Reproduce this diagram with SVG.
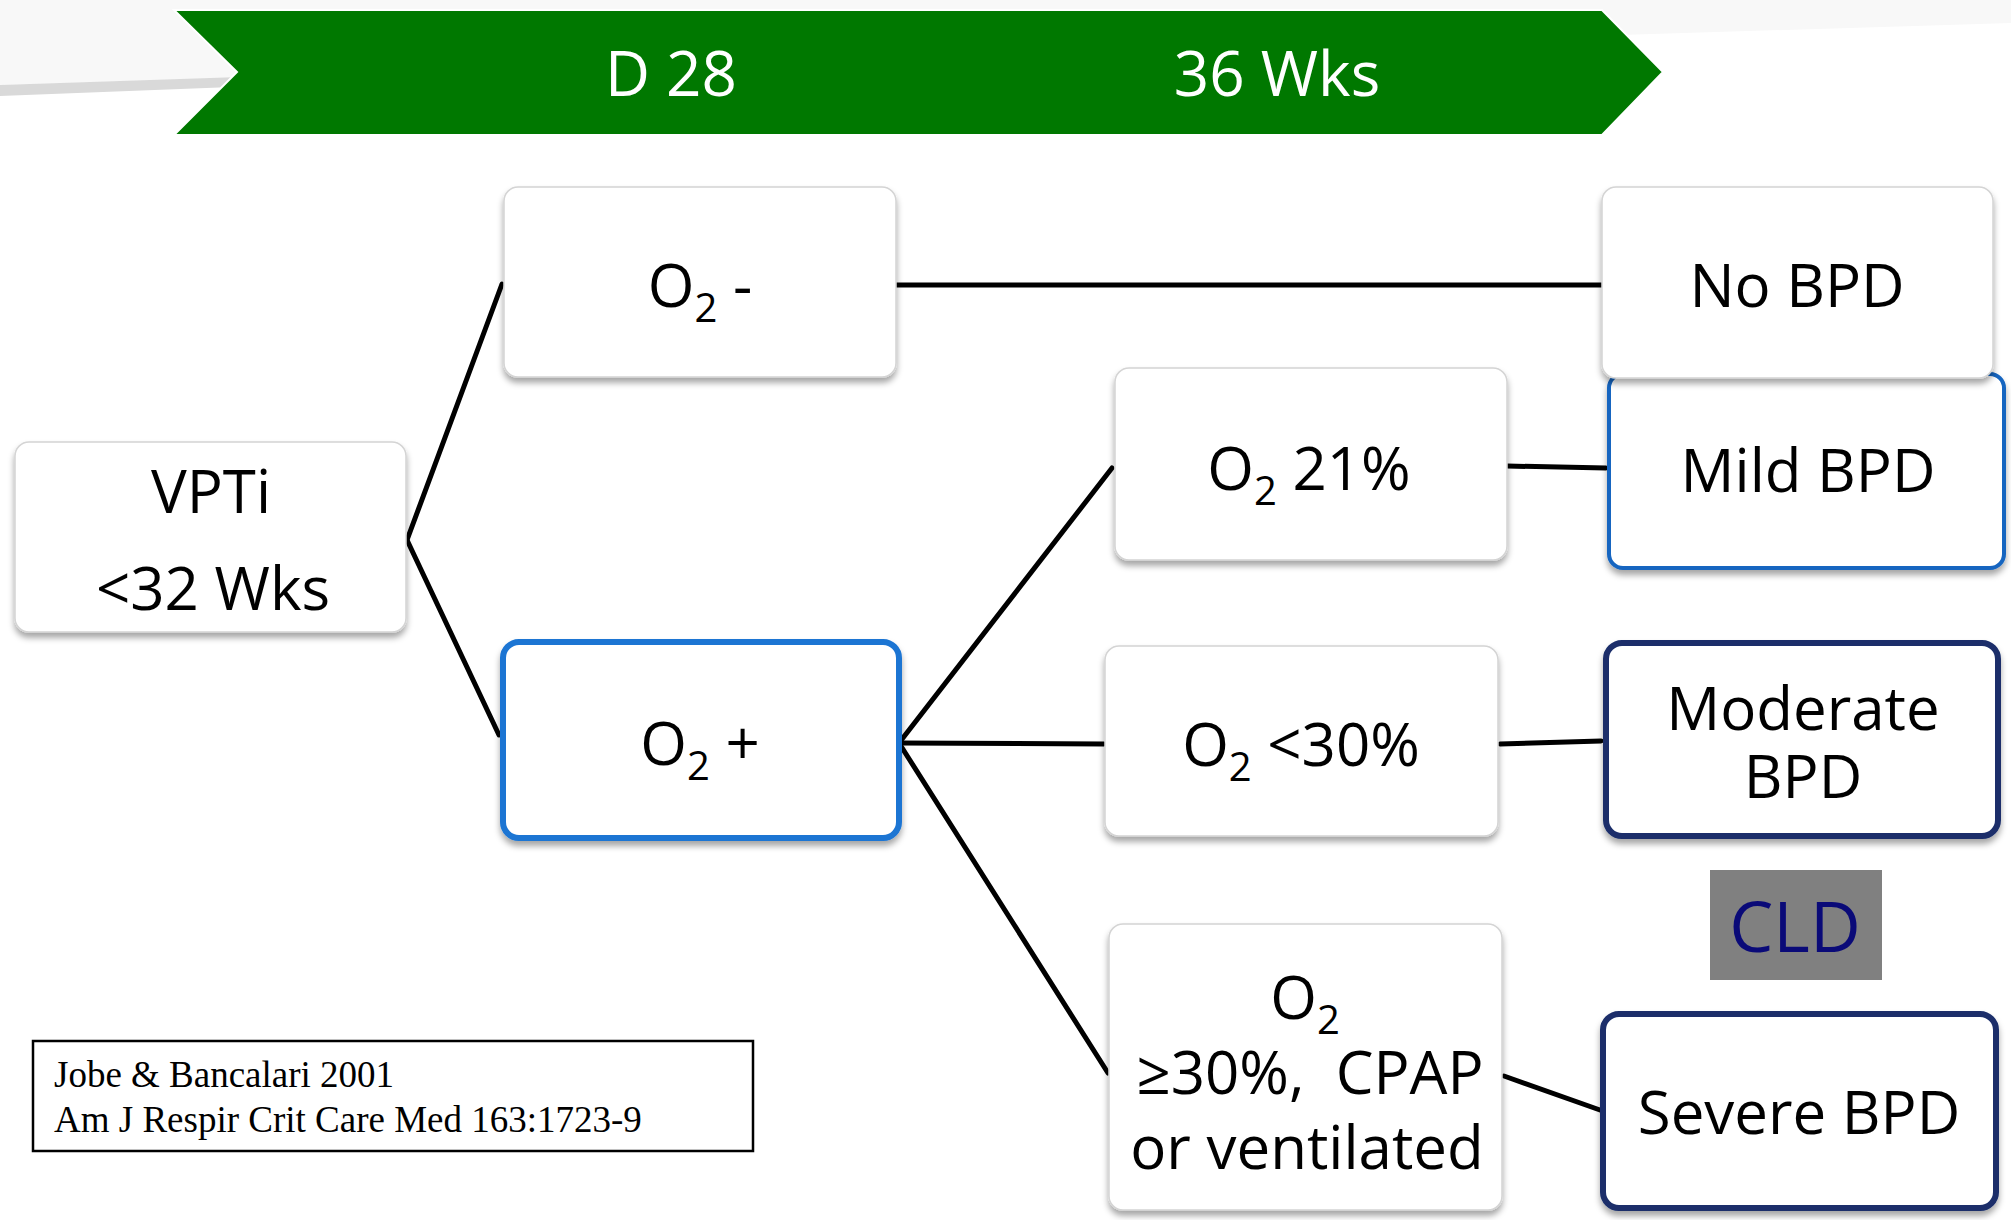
<svg xmlns="http://www.w3.org/2000/svg" width="2011" height="1220" viewBox="0 0 2011 1220">
<style>
.t{font-family:"Open Sans","Noto Sans","Liberation Sans",sans-serif;font-size:60px;fill:#000;text-anchor:middle}
.w{fill:#fff;font-size:62px}
.box{fill:#fff;stroke:#d4d4d4;stroke-width:1.5}
.blue{fill:#fff;stroke:#1b74d3;stroke-width:6}
.mild{fill:#fff;stroke:#1565c0;stroke-width:4}
.navy{fill:#fff;stroke:#1a2e6a;stroke-width:6}
.cite{font-family:"Liberation Serif","Times New Roman",serif;font-size:37px;fill:#000}
.cn line{stroke:#000;stroke-width:5;stroke-linecap:round}
</style>
<defs>
<filter id="sh" x="-10%" y="-10%" width="120%" height="130%">
<feDropShadow dx="0" dy="5" stdDeviation="3" flood-color="#000" flood-opacity="0.35"/>
</filter>
</defs>
<rect width="2011" height="1220" fill="#fff"/>
<g id="background">
<polygon points="0,0 2011,0 2011,23 0,85" fill="#f8f8f8"/>
<polygon points="0,85 240,77 232,87 0,96" fill="#d9d9d9"/>
</g>
<g id="banner">
<polygon points="174,10 1602,10 1663,72 1602,135 174,135 237,72" fill="#007800" stroke="#fff" stroke-width="2"/>
<text class="t w" x="671" y="96">D 28</text>
<text class="t w" x="1277" y="96">36 Wks</text>
</g>
<g id="connectors" class="cn">
<line x1="407" y1="540" x2="502" y2="284"/>
<line x1="407" y1="540" x2="499" y2="735"/>
<line x1="896" y1="285" x2="1602" y2="285"/>
<line x1="899" y1="743" x2="1112" y2="468"/>
<line x1="899" y1="743" x2="1104" y2="744"/>
<line x1="899" y1="743" x2="1108" y2="1073"/>
<line x1="1507" y1="466" x2="1606" y2="468"/>
<line x1="1500" y1="744" x2="1601" y2="741"/>
<line x1="1504" y1="1076" x2="1600" y2="1110"/>
</g>
<g id="node-vpti">
<rect class="box" x="15" y="442" width="391" height="190" rx="14" filter="url(#sh)"/>
<text class="t"><tspan x="211" y="513">VPTi</tspan><tspan x="213" y="610">&lt;32 Wks</tspan></text>
</g>
<g id="node-o2minus">
<rect class="box" x="504" y="187" width="392" height="190" rx="14" filter="url(#sh)"/>
<text class="t" x="700" y="307">O<tspan font-size="40" dy="15">2</tspan><tspan dy="-15"> -</tspan></text>
</g>
<g id="node-o2plus">
<rect class="blue" x="503" y="642" width="396" height="196" rx="16" filter="url(#sh)"/>
<text class="t" x="700" y="765">O<tspan font-size="40" dy="15">2</tspan><tspan dy="-15"> +</tspan></text>
</g>
<g id="node-o2-21">
<rect class="box" x="1115" y="368" width="392" height="192" rx="14" filter="url(#sh)"/>
<text class="t" x="1309" y="490">O<tspan font-size="40" dy="15">2</tspan><tspan dy="-15"> 21%</tspan></text>
</g>
<g id="node-mild">
<rect class="mild" x="1609" y="374" width="395" height="194" rx="14" filter="url(#sh)"/>
<text class="t" x="1808" y="492">Mild BPD</text>
</g>
<g id="node-nobpd">
<rect class="box" x="1602" y="187" width="391" height="191" rx="14" filter="url(#sh)"/>
<text class="t" x="1797" y="307">No BPD</text>
</g>
<g id="node-o2-30">
<rect class="box" x="1105" y="646" width="393" height="190" rx="14" filter="url(#sh)"/>
<text class="t" x="1301" y="766">O<tspan font-size="40" dy="15">2</tspan><tspan dy="-15"> &lt;30%</tspan></text>
</g>
<g id="node-moderate">
<rect class="navy" x="1606" y="643" width="392" height="193" rx="16" filter="url(#sh)"/>
<text class="t"><tspan x="1803" y="730">Moderate</tspan><tspan x="1803" y="798">BPD</tspan></text>
</g>
<g id="node-cld">
<rect x="1710" y="870" width="172" height="110" fill="#808080"/>
<text class="t" x="1795" y="952" style="fill:#0a0a78;font-size:70px">CLD</text>
</g>
<g id="node-o2-severe">
<rect class="box" x="1109" y="924" width="393" height="286" rx="14" filter="url(#sh)"/>
<text class="t" xml:space="preserve"><tspan x="1305" y="1019">O</tspan><tspan font-size="40" dy="15">2</tspan><tspan x="1310" y="1094">≥30%,  CPAP</tspan><tspan x="1307" y="1169">or ventilated</tspan></text>
</g>
<g id="node-severe">
<rect class="navy" x="1603" y="1014" width="393" height="194" rx="16" filter="url(#sh)"/>
<text class="t" x="1799" y="1134">Severe BPD</text>
</g>
<g id="citation">
<rect x="33" y="1041" width="720" height="110" fill="#fff" stroke="#000" stroke-width="2.5"/>
<text class="cite"><tspan x="54" y="1087">Jobe &amp; Bancalari 2001</tspan><tspan x="54" y="1132">Am J Respir Crit Care Med 163:1723-9</tspan></text>
</g>
</svg>
